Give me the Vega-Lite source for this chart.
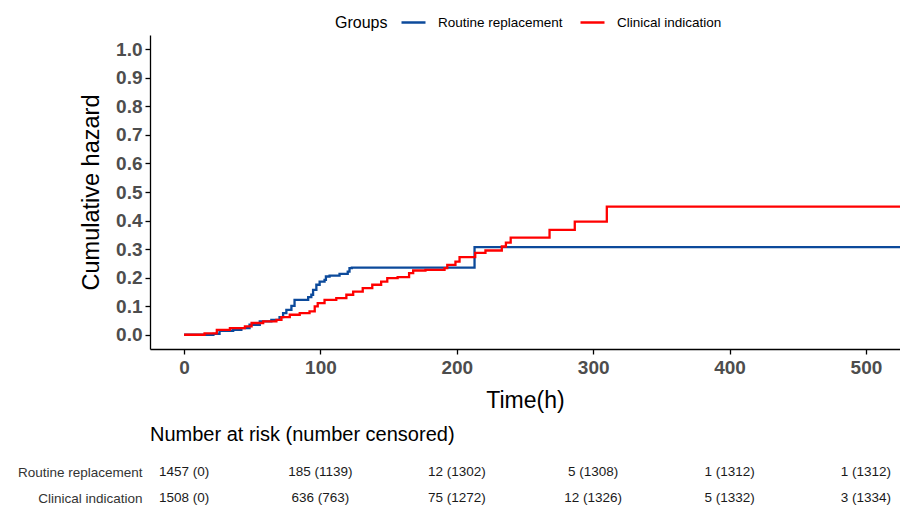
{
  "$schema": "https://vega.github.io/schema/vega-lite/v6.json",
  "padding": {"left": 0, "right": 0, "top": 9, "bottom": 0},
  "background": "white",
  "config": {
    "font": "Liberation Sans",
    "view": {"stroke": null},
    "concat": {"spacing": 13}
  },
  "datasets": {
    "curves": [
      {"group": "Routine replacement", "t": 0, "h": 0},
      {"group": "Routine replacement", "t": 21.5, "h": 0.003},
      {"group": "Routine replacement", "t": 26, "h": 0.014},
      {"group": "Routine replacement", "t": 36, "h": 0.017},
      {"group": "Routine replacement", "t": 42, "h": 0.023},
      {"group": "Routine replacement", "t": 48, "h": 0.035},
      {"group": "Routine replacement", "t": 55.5, "h": 0.047},
      {"group": "Routine replacement", "t": 64, "h": 0.052},
      {"group": "Routine replacement", "t": 70, "h": 0.062},
      {"group": "Routine replacement", "t": 72.6, "h": 0.076},
      {"group": "Routine replacement", "t": 75, "h": 0.087},
      {"group": "Routine replacement", "t": 78.7, "h": 0.101},
      {"group": "Routine replacement", "t": 81, "h": 0.122},
      {"group": "Routine replacement", "t": 91, "h": 0.132},
      {"group": "Routine replacement", "t": 93.3, "h": 0.14},
      {"group": "Routine replacement", "t": 94.6, "h": 0.157},
      {"group": "Routine replacement", "t": 97, "h": 0.175},
      {"group": "Routine replacement", "t": 99.4, "h": 0.186},
      {"group": "Routine replacement", "t": 103, "h": 0.192},
      {"group": "Routine replacement", "t": 104, "h": 0.204},
      {"group": "Routine replacement", "t": 106.7, "h": 0.207},
      {"group": "Routine replacement", "t": 114, "h": 0.213},
      {"group": "Routine replacement", "t": 120, "h": 0.221},
      {"group": "Routine replacement", "t": 121.3, "h": 0.233},
      {"group": "Routine replacement", "t": 123, "h": 0.235},
      {"group": "Routine replacement", "t": 213, "h": 0.307},
      {"group": "Routine replacement", "t": 525, "h": 0.307},
      {"group": "Clinical indication", "t": 0, "h": 0},
      {"group": "Clinical indication", "t": 15, "h": 0.005},
      {"group": "Clinical indication", "t": 24, "h": 0.017},
      {"group": "Clinical indication", "t": 33.6, "h": 0.023},
      {"group": "Clinical indication", "t": 44.6, "h": 0.029},
      {"group": "Clinical indication", "t": 49.5, "h": 0.041},
      {"group": "Clinical indication", "t": 58, "h": 0.047},
      {"group": "Clinical indication", "t": 67.7, "h": 0.052},
      {"group": "Clinical indication", "t": 71.4, "h": 0.062},
      {"group": "Clinical indication", "t": 77.5, "h": 0.07},
      {"group": "Clinical indication", "t": 84.8, "h": 0.076},
      {"group": "Clinical indication", "t": 92, "h": 0.082},
      {"group": "Clinical indication", "t": 95.8, "h": 0.099},
      {"group": "Clinical indication", "t": 98, "h": 0.111},
      {"group": "Clinical indication", "t": 103, "h": 0.122},
      {"group": "Clinical indication", "t": 111.6, "h": 0.128},
      {"group": "Clinical indication", "t": 119, "h": 0.14},
      {"group": "Clinical indication", "t": 124, "h": 0.151},
      {"group": "Clinical indication", "t": 131, "h": 0.163},
      {"group": "Clinical indication", "t": 138, "h": 0.175},
      {"group": "Clinical indication", "t": 144.5, "h": 0.186},
      {"group": "Clinical indication", "t": 149, "h": 0.198},
      {"group": "Clinical indication", "t": 156.6, "h": 0.202},
      {"group": "Clinical indication", "t": 165, "h": 0.216},
      {"group": "Clinical indication", "t": 168, "h": 0.225},
      {"group": "Clinical indication", "t": 177, "h": 0.227},
      {"group": "Clinical indication", "t": 191, "h": 0.233},
      {"group": "Clinical indication", "t": 193, "h": 0.245},
      {"group": "Clinical indication", "t": 199, "h": 0.256},
      {"group": "Clinical indication", "t": 202, "h": 0.272},
      {"group": "Clinical indication", "t": 213.5, "h": 0.287},
      {"group": "Clinical indication", "t": 221, "h": 0.295},
      {"group": "Clinical indication", "t": 233, "h": 0.309},
      {"group": "Clinical indication", "t": 236, "h": 0.323},
      {"group": "Clinical indication", "t": 239.5, "h": 0.34},
      {"group": "Clinical indication", "t": 268, "h": 0.367},
      {"group": "Clinical indication", "t": 286.5, "h": 0.396},
      {"group": "Clinical indication", "t": 310, "h": 0.449},
      {"group": "Clinical indication", "t": 525, "h": 0.449}
    ],
    "risk": [
      {"group": "Routine replacement", "t": 0, "label": "1457 (0)"},
      {"group": "Routine replacement", "t": 100, "label": "185 (1139)"},
      {"group": "Routine replacement", "t": 200, "label": "12 (1302)"},
      {"group": "Routine replacement", "t": 300, "label": "5 (1308)"},
      {"group": "Routine replacement", "t": 400, "label": "1 (1312)"},
      {"group": "Routine replacement", "t": 500, "label": "1 (1312)"},
      {"group": "Clinical indication", "t": 0, "label": "1508 (0)"},
      {"group": "Clinical indication", "t": 100, "label": "636 (763)"},
      {"group": "Clinical indication", "t": 200, "label": "75 (1272)"},
      {"group": "Clinical indication", "t": 300, "label": "12 (1326)"},
      {"group": "Clinical indication", "t": 400, "label": "5 (1332)"},
      {"group": "Clinical indication", "t": 500, "label": "3 (1334)"}
    ]
  },
  "vconcat": [
    {
      "width": 750,
      "height": 314,
      "data": {"name": "curves"},
      "mark": {"type": "line", "interpolate": "step-after", "strokeWidth": 2.3, "clip": true},
      "encoding": {
        "x": {
          "field": "t", "type": "quantitative",
          "scale": {"domain": [-25, 525], "nice": false, "zero": false},
          "axis": {
            "values": [0, 100, 200, 300, 400, 500], "grid": false,
            "title": "Time(h)", "titleFontSize": 23, "titleFontWeight": "normal", "titleColor": "black", "titlePadding": 12,
            "labelFontSize": 19, "labelFontWeight": "bold", "labelColor": "#4D4D4D", "labelPadding": 4,
            "domainColor": "black", "domainWidth": 1.3, "tickColor": "black", "tickWidth": 1.3, "tickSize": 5
          }
        },
        "y": {
          "field": "h", "type": "quantitative",
          "scale": {"domain": [-0.05, 1.05], "nice": false, "zero": false},
          "axis": {
            "values": [0, 0.1, 0.2, 0.3, 0.4, 0.5, 0.6, 0.7, 0.8, 0.9, 1.0], "format": ".1f", "grid": false,
            "title": "Cumulative hazard", "titleFontSize": 23.5, "titleFontWeight": "normal", "titleColor": "black", "titlePadding": 12,
            "labelFontSize": 19, "labelFontWeight": "bold", "labelColor": "#4D4D4D", "labelPadding": 3,
            "domainColor": "black", "domainWidth": 1.3, "tickColor": "black", "tickWidth": 1.3, "tickSize": 5
          }
        },
        "color": {
          "field": "group", "type": "nominal",
          "scale": {"domain": ["Routine replacement", "Clinical indication"], "range": ["#0C4A9B", "#FF0000"]},
          "legend": {
            "title": "Groups", "orient": "none", "direction": "horizontal", "titleOrient": "left", "titleBaseline": "line-top", "titleLineHeight": 9,
            "legendX": 185, "legendY": -26,
            "titleFontSize": 16, "titleFontWeight": "normal", "titleColor": "black", "titlePadding": 12,
            "labelFontSize": 13.5, "labelColor": "black", "labelOffset": 11, "columnPadding": 12,
            "symbolType": "stroke", "symbolSize": 576, "symbolStrokeWidth": 2.5
          }
        }
      }
    },
    {
      "width": 750,
      "height": 52,
      "data": {"name": "risk"},
      "title": {"text": "Number at risk (number censored)", "anchor": "start", "frame": "group", "fontSize": 20, "fontWeight": "normal", "color": "black", "offset": 14},
      "mark": {"type": "text", "fontSize": 13.5, "color": "#1A1A1A"},
      "encoding": {
        "x": {"field": "t", "type": "quantitative", "scale": {"domain": [-25, 525], "nice": false, "zero": false}, "axis": null},
        "y": {
          "field": "group", "type": "nominal",
          "sort": ["Routine replacement", "Clinical indication"],
          "scale": {"paddingInner": 0, "paddingOuter": 0},
          "axis": {"title": null, "domain": false, "ticks": false, "labelPadding": 8, "labelFontSize": 13.5, "labelColor": "#333333", "minExtent": 150, "maxExtent": 150}
        },
        "text": {"field": "label"}
      }
    }
  ]
}
